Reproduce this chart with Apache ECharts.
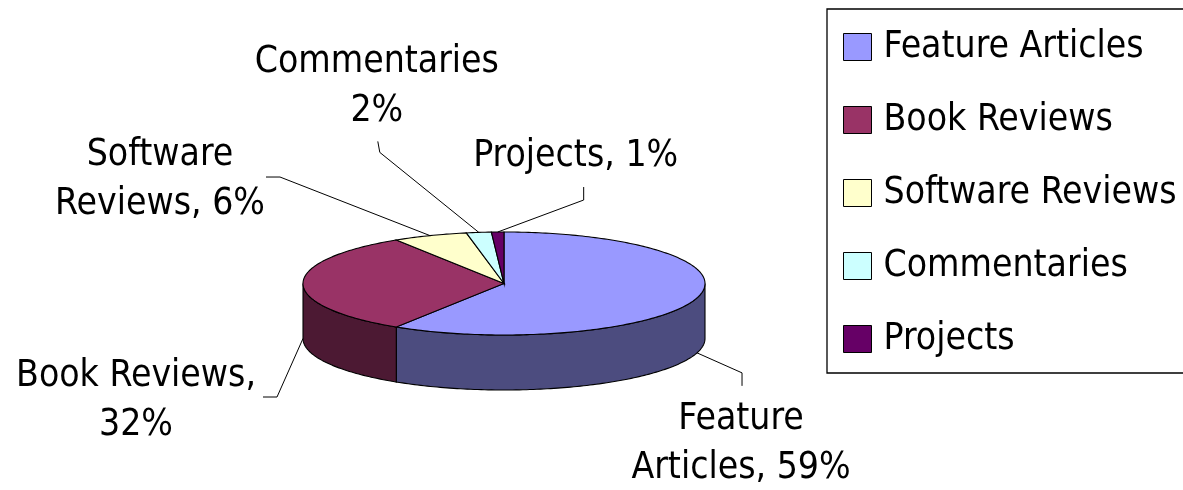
<!DOCTYPE html>
<html>
<head>
<meta charset="utf-8">
<script src="https://cdn.jsdelivr.net/npm/echarts@6/dist/echarts.min.js"></script>
<style>
html,body{margin:0;padding:0;background:#fff;}
#chart{width:1183px;height:490px;}
</style>
</head>
<body>
<div id="chart"></div>
<script>
// ---- data ----
const categories = ['Feature Articles', 'Book Reviews', 'Software Reviews', 'Commentaries', 'Projects'];
const values = [59, 32, 6, 2, 1];
const labelTexts = ['Feature\nArticles, 59%', 'Book Reviews,\n32%', 'Software\nReviews, 6%', 'Commentaries\n2%', 'Projects, 1%'];

// ---- styles ----
const topColors = ['#9999FF', '#993366', '#FFFFCC', '#CCFFFF', '#660066'];
const sideColors = ['#4C4C7F', '#4C1933', '#7F7F66', '#667F7F', '#330033'];
const FONT = '"DejaVu Sans Condensed", "DejaVu Sans", sans-serif';
const pieGeom = { cx: 504, cy: 283.5, rx: 201, ry: 51.5, depth: 55 };
// leader layout, offsets relative to each slice's computed anchor
const labelLayout = [
  { bend: [45, 20], end: [45, 33], text: [44, 91] },
  { bend: [-26, 58.5], end: [-40, 58.5], text: [-167, 62.5] },
  { bend: [-150, -58.6], end: [-164, -58.6], text: [-270, -56] },
  { bend: [-99, -80], end: [-101, -91], text: [-102, -146] },
  { bend: [86, -32], end: [86, -45], text: [78, -76] }
];

const total = values.reduce((a, b) => a + b, 0);

function pt(theta, dy) {
  return [pieGeom.cx + pieGeom.rx * Math.sin(theta), pieGeom.cy - pieGeom.ry * Math.cos(theta) + dy];
}
function arc(a, b, dy) {
  const pts = [];
  const n = Math.max(2, Math.ceil(Math.abs(b - a) / (Math.PI / 180)));
  for (let i = 0; i <= n; i++) pts.push(pt(a + (b - a) * i / n, dy));
  return pts;
}

function renderItem(params, api) {
  const idx = params.dataIndex;
  let before = 0;
  for (let i = 0; i < idx; i++) before += values[i];
  const v = api.value(0);
  const start = before / total * Math.PI * 2;
  const end = (before + v) / total * Math.PI * 2;
  const children = [];
  const stroke = { stroke: '#000', lineWidth: 1.1 };

  // side wall (front half only)
  const a = Math.max(start, Math.PI / 2), b = Math.min(end, Math.PI * 3 / 2);
  if (a < b) {
    const pts = arc(a, b, 0).concat(arc(b, a, pieGeom.depth));
    children.push({ type: 'polygon', z2: 1, shape: { points: pts }, style: Object.assign({ fill: sideColors[idx] }, stroke) });
  }
  // top face
  const topPts = [[pieGeom.cx, pieGeom.cy]].concat(arc(start, end, 0));
  children.push({ type: 'polygon', z2: 2, shape: { points: topPts }, style: Object.assign({ fill: topColors[idx] }, stroke) });

  // label + leader
  const mid = (start + end) / 2;
  const anchor = Math.cos(mid) < 0.01 ? pt(mid, pieGeom.depth) : pt(mid, 0);
  const L = labelLayout[idx];
  children.push({
    type: 'polyline', z2: 3,
    shape: { points: [anchor, [anchor[0] + L.bend[0], anchor[1] + L.bend[1]], [anchor[0] + L.end[0], anchor[1] + L.end[1]]] },
    style: { stroke: '#000', lineWidth: 1, fill: null }
  });
  children.push({
    type: 'text', z2: 4,
    x: anchor[0] + L.text[0], y: anchor[1] + L.text[1],
    style: { text: labelTexts[idx], fill: '#000', fontSize: 37, fontFamily: FONT, lineHeight: 49, align: 'center', verticalAlign: 'middle' }
  });
  return { type: 'group', children: children };
}

const chart = echarts.init(document.getElementById('chart'), null, { renderer: 'canvas' });
chart.setOption({
  animation: false,
  backgroundColor: '#fff',
  graphic: [{
    type: 'rect', z: 1,
    shape: { x: 827, y: 9, width: 420, height: 364 },
    style: { fill: null, stroke: '#000', lineWidth: 1.3 }
  }],
  legend: {
    orient: 'vertical',
    left: 827, top: 9,
    padding: [18, 20, 15, 16],
    itemWidth: 28, itemHeight: 27, itemGap: 33,
    icon: 'rect',
    itemStyle: { borderColor: '#000', borderWidth: 1 },
    textStyle: { fontFamily: FONT, fontSize: 37, color: '#000', lineHeight: 40, padding: [0, 0, 0, 7] },
    data: categories
  },
  series: [
    {
      type: 'pie', radius: [0, 0], center: [pieGeom.cx, pieGeom.cy], silent: true,
      label: { show: false }, labelLine: { show: false },
      data: categories.map((c, i) => ({ name: c, value: values[i], itemStyle: { color: topColors[i] } }))
    },
    {
      type: 'custom', coordinateSystem: 'none', renderItem: renderItem,
      data: values.map(v => [v])
    }
  ]
});
</script>
</body>
</html>
